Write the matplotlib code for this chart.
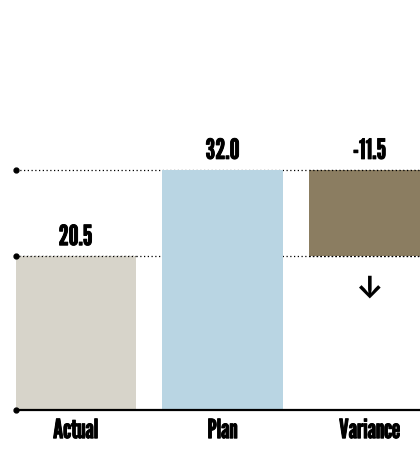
import matplotlib.pyplot as plt
import matplotlib.patheffects as pe

categories = ["Actual", "Plan", "Variance"]
actual = 20.5
plan = 32.0
variance = actual - plan  # -11.5

bar_colors = ["#d7d4ca", "#b9d5e3", "#8b7d61"]
label_font = ["League Gothic", "Liberation Sans", "DejaVu Sans"]
heavy = [pe.withStroke(linewidth=0.7, foreground="black")]

fig = plt.figure(figsize=(4.2, 4.49), dpi=100)
ax = fig.add_axes([16 / 420, 39 / 449, 404 / 420, 337 / 449])

x = [0, 1, 2]
width = 121 / 147
left = -0.405
right = 2.4

# reference lines for plan and actual levels, under the bars
for level in (plan, actual):
    ax.plot([left, right], [level, level], color="black", lw=0.9,
            linestyle=(0, (1, 2)), zorder=1, clip_on=False)
    ax.plot(left, level, "o", color="black", ms=3.5, zorder=3, clip_on=False)

ax.bar(x[0], actual, width=width, color=bar_colors[0], zorder=2)
ax.bar(x[1], plan, width=width, color=bar_colors[1], zorder=2)
ax.bar(x[2], variance, bottom=plan, width=width, color=bar_colors[2], zorder=2)

# dotted edges over the actual and variance bar tops
ax.plot([x[0] - width / 2, x[0] + width / 2], [actual, actual], color="black", lw=0.9,
        linestyle=(0, (1, 2)), zorder=2.5)
ax.plot([x[2] - width / 2, right], [plan, plan], color="black", lw=0.9,
        linestyle=(0, (1, 2)), zorder=2.5, clip_on=False)
ax.plot([x[2] - width / 2, right], [actual, actual], color="black", lw=0.9,
        linestyle=(0, (1, 2)), zorder=2.5, clip_on=False)

# baseline
ax.plot([left, right], [0, 0], color="black", lw=1.6, zorder=3, clip_on=False)
ax.plot(left, 0, "o", color="black", ms=3.5, zorder=3, clip_on=False)

# value labels
tops = [actual, plan, plan]
values = [actual, plan, variance]
for xi, top, val in zip(x, tops, values):
    ax.annotate(f"{val:.1f}", (xi, top), xytext=(0, 8), textcoords="offset points",
                ha="center", va="baseline", fontsize=20, family=label_font,
                path_effects=heavy)

# direction arrow under the variance bar
ax.text(x[2], (410 - 290) / 7.5, "\u2193", ha="center", va="center", fontsize=22,
        fontweight="bold", family=["Inter", "DejaVu Sans"])

# category labels
for xi, name in zip(x, categories):
    ax.text(xi, -3.75, name, ha="center", va="baseline", fontsize=19,
            family=label_font, path_effects=heavy)

ax.set_xlim(left, (420 - 75.5) / 147)
ax.set_ylim(0, 337 / 7.5)
ax.axis("off")

fig.savefig("out.png", dpi=100)
